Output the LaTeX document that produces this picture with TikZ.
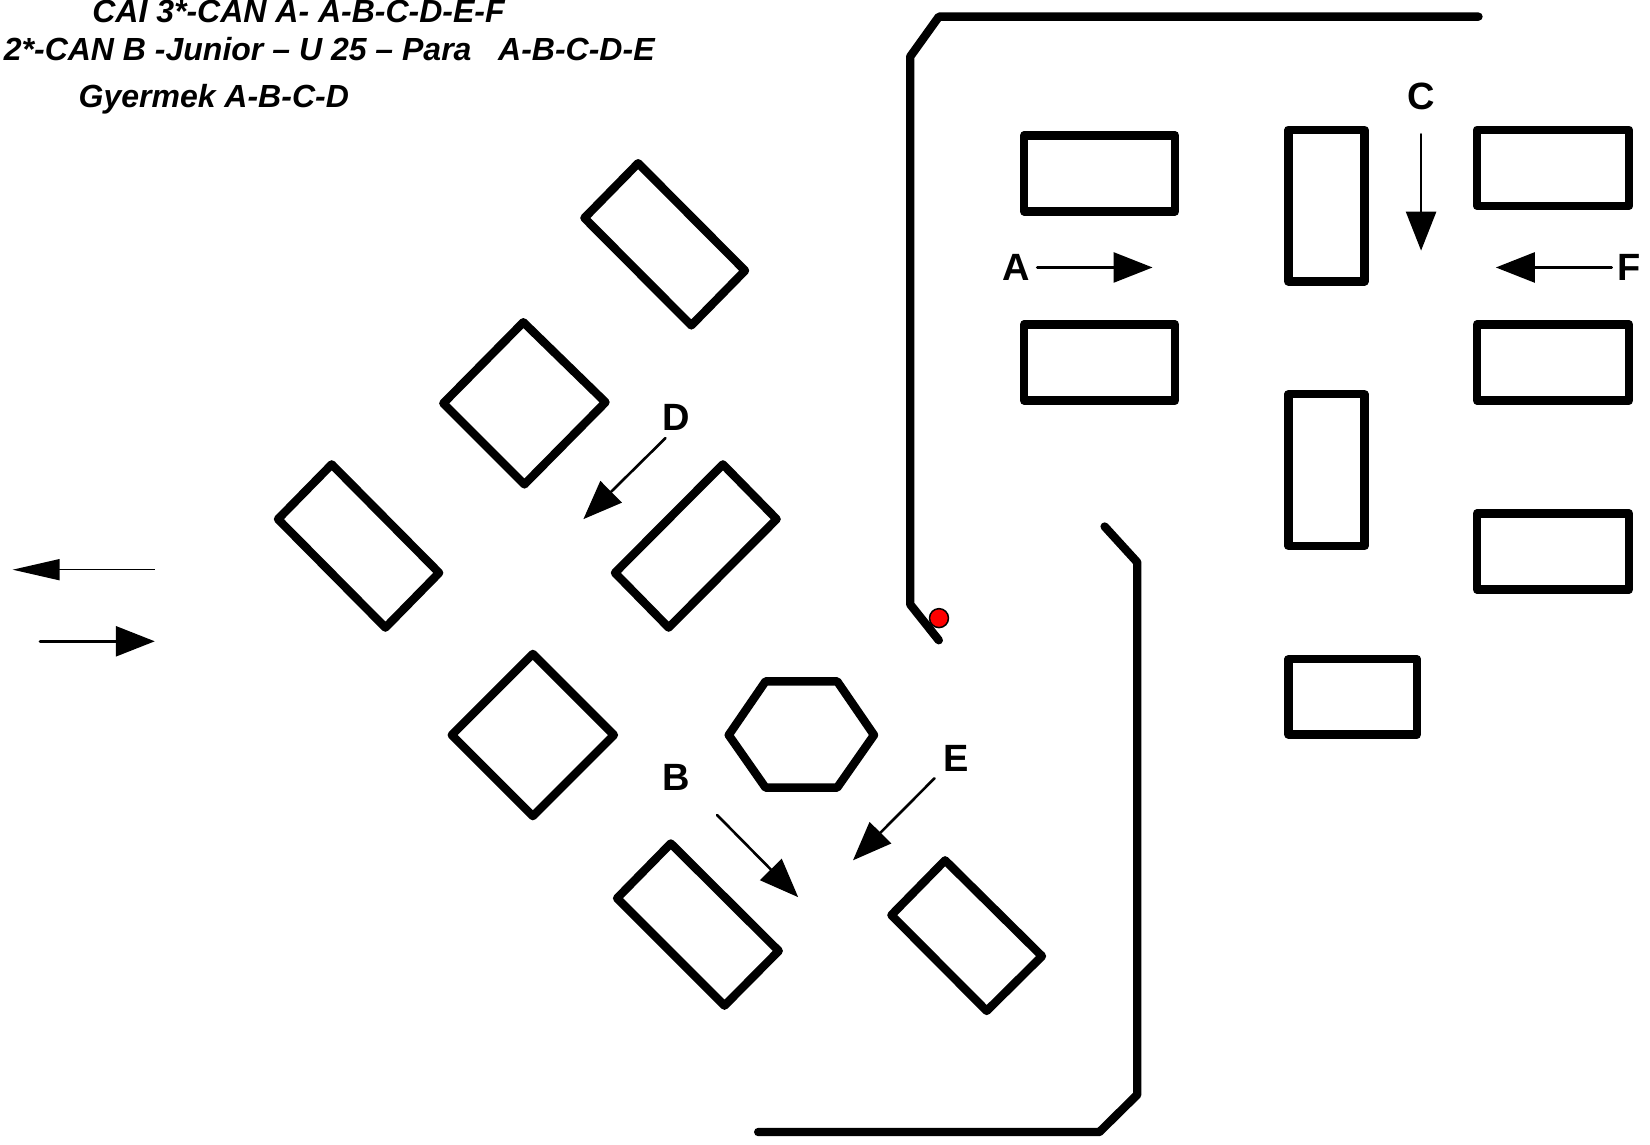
\documentclass[tikz,border=0pt]{standalone}
\usepackage{fontspec}
\setmainfont{Liberation Sans}
\usetikzlibrary{arrows.meta}
\tikzset{
  wall/.style={line width=8.4pt,line join=round,line cap=round,black},
  obstacle/.style={line width=8.4pt,line join=round,black},
  dirarrow/.style={line width=2.6pt,line cap=round,-{Triangle[length=39pt,width=30pt]}},
  thinarrow/.style={line width=1.6pt,-{Triangle[length=47pt,width=21pt]}},
  lane/.style={inner sep=0pt,anchor=base,font=\bfseries\fontsize{38}{38}\selectfont},
  course/.style={inner sep=0pt,anchor=base west,font=\bfseries\itshape\fontsize{32}{32}\selectfont},
}
\begin{document}
\begin{tikzpicture}[x=1.053pt,y=-1.053pt]
\useasboundingbox (0,0) rectangle (1566.9,1087.3);
% walls
\draw[wall] (1404,15.8) -- (891.6,15.8) -- (864.4,53.7) -- (864.4,574) -- (891.5,608);
\draw[wall] (1049,500) -- (1080,534) -- (1080,1039.5) -- (1044,1075) -- (720,1075);
% rectangles
\draw[obstacle] (972.6,128.5) rectangle (1115.9,200.7);
\draw[obstacle] (972.6,308.1) rectangle (1115.9,380.3);
\draw[obstacle] (1223.5,123.2) rectangle (1295.6,267.4);
\draw[obstacle] (1223.5,374.4) rectangle (1295.6,518.7);
\draw[obstacle] (1402.6,123.3) rectangle (1547,195.5);
\draw[obstacle] (1402.6,308.1) rectangle (1547,380.3);
\draw[obstacle] (1402.6,487.5) rectangle (1547,559.9);
\draw[obstacle] (1223.5,626) rectangle (1345.5,697.5);
% turned obstacles
\draw[obstacle] (606,155) -- (707.5,257) -- (656.5,309) -- (555,207) -- cycle;
\draw[obstacle] (497,306) -- (575,382) -- (498,460) -- (421,383) -- cycle;
\draw[obstacle] (315,441) -- (417,544) -- (366,596) -- (264,493) -- cycle;
\draw[obstacle] (686.5,441) -- (737.5,493) -- (635,596) -- (584,544) -- cycle;
\draw[obstacle] (506,621) -- (583,698) -- (506,775) -- (429,698) -- cycle;
\draw[obstacle] (637,801) -- (739.5,903) -- (688,955) -- (586,853) -- cycle;
\draw[obstacle] (897.5,817) -- (989.5,908) -- (937,960) -- (846.5,869) -- cycle;
\draw[obstacle] (727,647) -- (795,647) -- (830,698) -- (795,748) -- (727,748) -- (692,698) -- cycle;
% red marker
\fill[red,draw=black,line width=1.5pt] (891.7,587) circle (9);
% arrow ends
\coordinate (a1) at (985,254);  \coordinate (a2) at (1094.5,254);
\coordinate (f1) at (1530.5,254); \coordinate (f2) at (1420.5,254);
\coordinate (c1) at (1349.5,127.5); \coordinate (c2) at (1349.5,238);
\coordinate (d1) at (632,416);  \coordinate (d2) at (554,493);
\coordinate (e1) at (887.5,739);  \coordinate (e2) at (810,817);
\coordinate (b1) at (681,774);  \coordinate (b2) at (758,852);
\coordinate (l1) at (147,541);  \coordinate (l2) at (12,541);
\coordinate (r1) at (38,609);   \coordinate (r2) at (147,609);
\draw[dirarrow] (a1) -- (a2);
\draw[dirarrow] (f1) -- (f2);
\draw[dirarrow] (c1) -- (c2);
\draw[dirarrow] (d1) -- (d2);
\draw[dirarrow] (e1) -- (e2);
\draw[dirarrow] (b1) -- (b2);
\draw[thinarrow] (l1) -- (l2);
\draw[dirarrow] (r1) -- (r2);
% lane labels
\node[lane] (la) at (965,266) {A};
\node[lane] (lf) at (1547,266) {F};
\node[lane] (lc) at (1350,104) {C};
\node[lane] (ld) at (642,409) {D};
\node[lane] (lb) at (642,751) {B};
\node[lane] (le) at (908,733) {E};
% course titles
\node[course] (t1) at (87.5,21.5) {CAI 3*-CAN A- A-B-C-D-E-F};
\node[course] (t2) at (3.5,57.2) {2*-CAN B -Junior – U 25 – Para\ \ \ A-B-C-D-E};
\node[course] (t3) at (74.5,101.7) {Gyermek A-B-C-D};
\end{tikzpicture}
\end{document}
